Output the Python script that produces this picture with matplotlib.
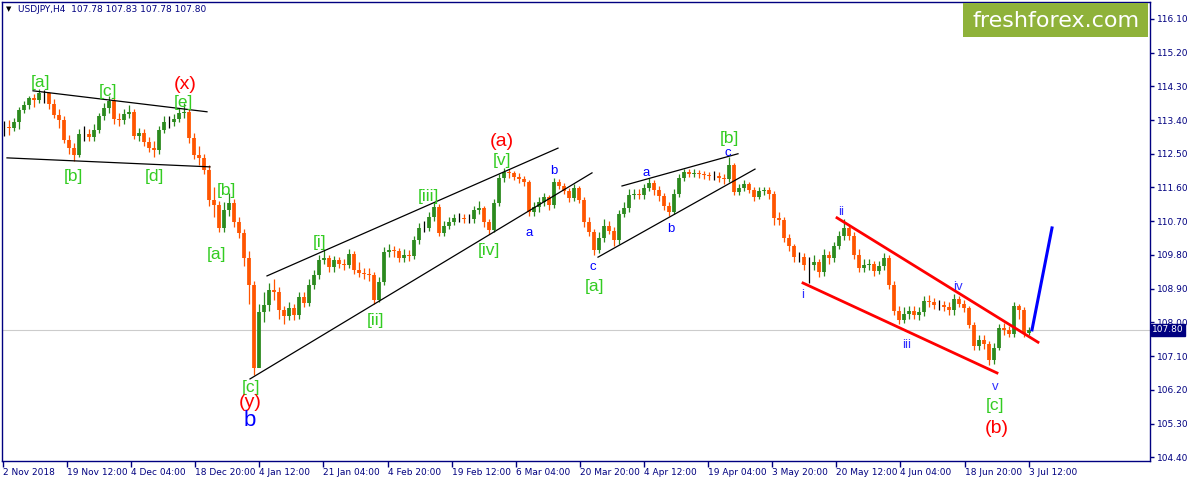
import numpy as np
import matplotlib
matplotlib.use('Agg')
import matplotlib.pyplot as plt

# USDJPY H4, one candle per ~5 px of the original chart
closes = [
    113.22, 113.19, 113.35, 113.67, 113.80, 113.99, 113.94, 114.12, 114.12, 113.83,
    113.54, 113.40, 112.87, 112.66, 112.47, 113.03, 113.03, 112.95, 113.14, 113.51,
    113.72, 113.91, 113.43, 113.40, 113.56, 113.62, 112.98, 113.06, 112.82, 112.66,
    112.60, 113.14, 113.35, 113.35, 113.43, 113.59, 113.62, 112.92, 112.47, 112.39,
    112.07, 111.27, 111.13, 110.52, 111.00, 111.19, 110.68, 110.39, 109.72, 109.00,
    106.78, 108.28, 108.46, 108.86, 108.81, 108.33, 108.17, 108.38, 108.20, 108.68,
    108.52, 109.00, 109.26, 109.66, 109.72, 109.48, 109.66, 109.56, 109.53, 109.82,
    109.40, 109.32, 109.29, 109.26, 108.60, 109.08, 109.88, 109.93, 109.90, 109.72,
    109.80, 109.77, 110.20, 110.52, 110.52, 110.81, 111.08, 110.39, 110.57, 110.68,
    110.79, 110.79, 110.76, 110.76, 111.00, 111.05, 110.68, 110.47, 111.19, 111.85,
    112.01, 111.99, 111.88, 111.83, 111.75, 110.95, 111.08, 111.21, 111.35, 111.13,
    111.75, 111.64, 111.51, 111.32, 111.59, 111.27, 110.68, 110.41, 109.93, 110.25,
    110.57, 110.44, 110.20, 110.89, 111.05, 111.40, 111.43, 111.40, 111.59, 111.72,
    111.53, 111.37, 111.11, 110.95, 111.43, 111.85, 112.01, 111.96, 111.99, 111.96,
    111.93, 111.91, 111.91, 111.85, 111.83, 112.20, 111.48, 111.59, 111.69, 111.53,
    111.35, 111.51, 111.53, 111.43, 110.79, 110.73, 110.25, 110.04, 109.74, 109.74,
    109.53, 109.53, 109.61, 109.34, 109.80, 109.72, 110.04, 110.31, 110.52, 110.31,
    109.80, 109.45, 109.53, 109.56, 109.37, 109.50, 109.72, 109.00, 108.30, 108.06,
    108.22, 108.30, 108.20, 108.28, 108.57, 108.54, 108.46, 108.46, 108.41, 108.33,
    108.62, 108.49, 108.38, 107.93, 107.37, 107.53, 107.42, 106.99, 107.32, 107.85,
    107.80, 107.69, 108.44, 108.33, 107.72, 107.80,
]
highs = [
    113.38, 113.40, 113.45, 113.75, 113.90, 114.05, 114.10, 114.22, 114.20, 114.15,
    113.95, 113.70, 113.50, 113.00, 112.80, 113.15, 113.25, 113.15, 113.30, 113.60,
    113.85, 114.05, 113.98, 113.60, 113.70, 113.80, 113.70, 113.20, 113.15, 112.95,
    112.85, 113.25, 113.50, 113.50, 113.55, 113.72, 113.85, 113.70, 113.05, 112.70,
    112.50, 112.20, 111.60, 111.25, 111.20, 111.45, 111.30, 110.80, 110.50, 109.90,
    109.10, 108.50, 108.80, 109.05, 109.15, 108.95, 108.45, 108.55, 108.50, 108.80,
    108.80, 109.15, 109.40, 109.80, 109.95, 109.80, 109.78, 109.75, 109.70, 109.95,
    109.90, 109.60, 109.45, 109.45, 109.35, 109.20, 110.00, 110.10, 110.05, 109.98,
    109.95, 109.92, 110.30, 110.65, 110.70, 110.95, 111.20, 111.15, 110.70, 110.80,
    110.90, 110.92, 110.90, 110.88, 111.10, 111.25, 111.10, 110.75, 111.30, 111.95,
    112.12, 112.10, 112.05, 111.98, 111.90, 111.80, 111.20, 111.35, 111.45, 111.40,
    111.85, 111.82, 111.72, 111.58, 111.70, 111.65, 111.35, 110.80, 110.50, 110.40,
    110.75, 110.70, 110.55, 111.00, 111.20, 111.55, 111.55, 111.55, 111.70, 111.85,
    111.80, 111.65, 111.45, 111.20, 111.55, 111.95, 112.10, 112.08, 112.08, 112.06,
    112.05, 112.02, 112.03, 112.00, 111.95, 112.40, 112.25, 111.70, 111.80, 111.75,
    111.60, 111.62, 111.62, 111.60, 111.50, 110.95, 110.80, 110.35, 110.10, 109.88,
    109.85, 109.75, 109.80, 109.70, 109.95, 109.90, 110.15, 110.45, 110.75, 110.60,
    110.40, 109.95, 109.70, 109.70, 109.65, 109.65, 109.85, 109.80, 109.10, 108.45,
    108.40, 108.45, 108.45, 108.40, 108.70, 108.72, 108.65, 108.60, 108.58, 108.55,
    108.75, 108.70, 108.60, 108.45, 108.00, 107.65, 107.65, 107.50, 107.45, 107.95,
    107.98, 107.90, 108.55, 108.50, 108.40, 107.88,
]
lows = [
    112.98, 113.00, 113.10, 113.15, 113.60, 113.70, 113.75, 113.85, 113.85, 113.70,
    113.45, 113.20, 112.80, 112.50, 112.30, 112.40, 112.85, 112.85, 112.85, 113.05,
    113.40, 113.60, 113.30, 113.25, 113.30, 113.45, 112.90, 112.85, 112.70, 112.55,
    112.40, 112.50, 113.05, 113.20, 113.25, 113.35, 113.45, 112.80, 112.35, 112.20,
    111.95, 111.10, 110.80, 110.40, 110.40, 110.85, 110.55, 110.25, 109.50, 108.50,
    106.60, 106.80, 108.00, 108.30, 108.60, 108.10, 107.95, 108.05, 108.05, 108.10,
    108.40, 108.45, 108.90, 109.15, 109.55, 109.35, 109.35, 109.45, 109.40, 109.45,
    109.30, 109.20, 109.15, 109.10, 108.50, 108.55, 109.00, 109.75, 109.75, 109.60,
    109.60, 109.65, 109.70, 110.10, 110.40, 110.45, 110.70, 110.30, 110.30, 110.50,
    110.60, 110.68, 110.65, 110.65, 110.65, 110.90, 110.55, 110.35, 110.40, 111.10,
    111.75, 111.85, 111.80, 111.72, 111.65, 110.85, 110.85, 110.95, 111.10, 111.00,
    111.05, 111.55, 111.42, 111.22, 111.25, 111.18, 110.55, 110.30, 109.80, 109.85,
    110.15, 110.35, 110.05, 110.10, 110.80, 110.95, 111.30, 111.30, 111.30, 111.50,
    111.40, 111.25, 111.00, 110.85, 110.88, 111.35, 111.78, 111.88, 111.88, 111.86,
    111.82, 111.80, 111.80, 111.75, 111.70, 111.75, 111.40, 111.40, 111.50, 111.45,
    111.25, 111.28, 111.40, 111.30, 110.60, 110.60, 110.15, 109.90, 109.60, 109.60,
    109.40, 109.05, 109.40, 109.20, 109.25, 109.55, 109.60, 109.95, 110.20, 110.20,
    109.70, 109.35, 109.35, 109.40, 109.25, 109.30, 109.40, 108.90, 108.20, 107.95,
    107.98, 108.10, 108.10, 108.05, 108.18, 108.40, 108.35, 108.32, 108.30, 108.20,
    108.20, 108.40, 108.28, 107.85, 107.25, 107.25, 107.30, 106.85, 106.90, 107.25,
    107.65, 107.60, 107.62, 108.10, 107.62, 107.65,
]

date_labels = ['2 Nov 2018', '19 Nov 12:00', '4 Dec 04:00', '18 Dec 20:00', '4 Jan 12:00',
               '21 Jan 04:00', '4 Feb 20:00', '19 Feb 12:00', '6 Mar 04:00', '20 Mar 20:00',
               '4 Apr 12:00', '19 Apr 04:00', '3 May 20:00', '20 May 12:00', '4 Jun 04:00',
               '18 Jun 20:00', '3 Jul 12:00']
price_ticks = [104.40, 105.30, 106.20, 107.10, 108.00, 108.90, 109.80, 110.70,
               111.60, 112.50, 113.40, 114.30, 115.20, 116.10]
last_price = 107.80

# trend lines as (bar0, price0, bar1, price1)
black_lines = [(5.8, 114.18, 40.6, 113.62), (0.6, 112.39, 41.2, 112.15),
               (52.6, 109.24, 110.8, 112.65), (49.2, 106.49, 117.6, 111.99),
               (118.8, 109.74, 150.2, 112.09), (123.6, 111.64, 146.8, 112.50)]
red_lines = [(166.6, 110.79, 206.8, 107.47), (159.8, 109.05, 198.6, 106.65)]
forecast_bars = [205.6, 209.6]
forecast_prices = [107.80, 110.52]

GREEN, RED, BLUE, BLUE2 = '#33cc22', '#ff0000', '#0000ff', '#3030ff'
# (text, bar, price, colour, size)
wave_labels = [
    ('[a]', 7.2, 114.39, GREEN, 12.5), ('[b]', 13.8, 111.88, GREEN, 12.5),
    ('[c]', 20.8, 114.15, GREEN, 12.5), ('[d]', 30.0, 111.88, GREEN, 12.5),
    ('[e]', 35.8, 113.86, GREEN, 12.5), ('(x)', 36.2, 114.34, RED, 14),
    ('[b]', 44.4, 111.53, GREEN, 12.5), ('[a]', 42.6, 109.82, GREEN, 12.5),
    ('[c]', 49.4, 106.27, GREEN, 12.5), ('(y)', 49.2, 105.85, RED, 14),
    ('b', 49.2, 105.39, BLUE, 16),
    ('[i]', 63.2, 110.12, GREEN, 12.5), ('[ii]', 74.4, 108.04, GREEN, 12.5),
    ('[iii]', 84.8, 111.37, GREEN, 12.5), ('[iv]', 97.0, 109.93, GREEN, 12.5),
    ('[v]', 99.6, 112.33, GREEN, 12.5), ('(a)', 99.6, 112.82, RED, 14),
    ('a', 105.0, 110.39, BLUE, 9.5), ('b', 110.0, 112.04, BLUE, 9.5),
    ('c', 117.8, 109.48, BLUE, 9.5), ('[a]', 118.0, 108.97, GREEN, 12.5),
    ('a', 128.4, 111.99, BLUE, 9.5), ('b', 133.4, 110.49, BLUE, 9.5),
    ('c', 144.8, 112.52, BLUE, 9.5), ('[b]', 145.0, 112.92, GREEN, 12.5),
    ('i', 159.8, 108.73, BLUE2, 9.5), ('ii', 167.4, 110.95, BLUE2, 9.5),
    ('iii', 180.6, 107.40, BLUE2, 9.5), ('iv', 190.8, 108.94, BLUE2, 9.5),
    ('v', 198.2, 106.27, BLUE2, 9.5), ('[c]', 198.2, 105.79, GREEN, 12.5),
    ('(b)', 198.6, 105.18, RED, 14),
]

NAVY = '#000080'
W, H = 1190, 482
fig = plt.figure(figsize=(W / 100, H / 100), dpi=100)
ax = fig.add_axes([2 / W, 21 / H, 1148 / W, 459 / H])
ax.set_xlim(-0.4, 229.2)
ax.set_ylim(104.30, 116.55)

ax.axhline(last_price, color='#cccccc', lw=0.8, zorder=1)

c = np.array(closes)
o = np.r_[c[0], c[:-1]]
idx = np.arange(len(c))
cols = np.where(c > o, '#2b8a1e', np.where(c < o, '#ff5500', 'black'))
ax.vlines(idx, lows, highs, colors=cols, lw=0.9, zorder=3)
ax.vlines(idx, o, c, colors=cols, lw=2.7, zorder=3)

for x0, y0, x1, y1 in black_lines:
    ax.plot([x0, x1], [y0, y1], color='black', lw=0.9, zorder=4)
for x0, y0, x1, y1 in red_lines:
    ax.plot([x0, x1], [y0, y1], color='#ff0000', lw=2.0, zorder=4)
ax.plot(forecast_bars, forecast_prices, color='#0000ff', lw=2.2, zorder=5)

for s, x, y, col, fs in wave_labels:
    ax.text(x, y, s, color=col, fontsize=fs, ha='center', va='center',
            family='Liberation Sans', zorder=6)

for sp in ax.spines.values():
    sp.set_color(NAVY)
    sp.set_linewidth(1)

ax.yaxis.tick_right()
ax.set_yticks(price_ticks)
ax.set_yticklabels(['%.2f' % p for p in price_ticks])
ax.tick_params(axis='y', direction='out', length=3, width=1, color=NAVY,
               labelcolor=NAVY, labelsize=6.5, pad=2)

tick_pos = np.arange(len(date_labels)) * 12.82 - 0.2
ax.set_xticks(tick_pos)
ax.set_xticklabels(date_labels, ha='left')
ax.tick_params(axis='x', direction='out', length=4, width=1, color=NAVY,
               labelcolor=NAVY, labelsize=6.5, pad=1)

# current price box on the scale
fig.text(1152 / W, 1 - 329.8 / H, '%.2f' % last_price, color='white', fontsize=6.5,
         va='center', ha='left',
         bbox=dict(boxstyle='square,pad=0.15', fc=NAVY, ec=NAVY))

# header
fig.text(6 / W, 1 - 9 / H, '\u25bc', fontsize=5, color='black', va='center')
fig.text(18 / W, 1 - 9 / H, 'USDJPY,H4  107.78 107.83 107.78 107.80', fontsize=6.5,
         color=NAVY, va='center')

# logo
ax.add_patch(plt.Rectangle((963 / W, 1 - 37 / H), 185 / W, 34 / H,
                           transform=fig.transFigure, fc='#8fb23a', ec='none', zorder=7))
fig.text(1056 / W, 1 - 21 / H, 'freshforex.com', color='white', fontsize=16,
         ha='center', va='center', zorder=8)

fig.savefig('out.png', dpi=100)
